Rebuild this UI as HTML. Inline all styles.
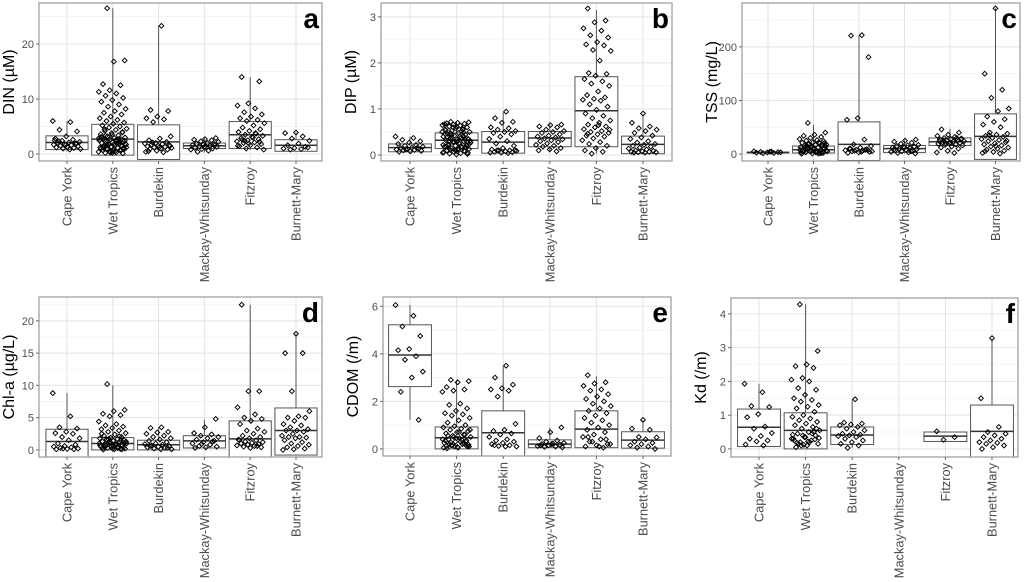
<!DOCTYPE html>
<html><head><meta charset="utf-8"><style>
html,body{margin:0;padding:0;background:#fff;}
svg{display:block;font-family:"Liberation Sans",Arial,sans-serif;}
</style></head><body>
<svg id="fig" width="1024" height="582" viewBox="0 0 1024 582" xmlns="http://www.w3.org/2000/svg"></svg>
<script>
const categories=["Cape York","Wet Tropics","Burdekin","Mackay-Whitsunday","Fitzroy","Burnett-Mary"];
// box stats: [whiskerLow, q1, median, q3, whiskerHigh]
const dinBox=[[0.5,0.8,2.1,3.3,6],[0,-0.2,2.7,5.4,26.5],[0.2,-1,2.2,5.3,23.3],[0.3,1,1.5,2,2.9],[0.8,1,3.5,5.9,14],[0.8,0.5,1.6,2.6,3.9]];
const dinPts=[[6,5.8,4.4,4.1,3.2,2.8,2.6,2.4,2.2,2.1,2,1.9,1.8,1.7,1.6,1.5,1.4,1.3,1.2,1.1,1,0.9,0.8,2.3,1.9,1.6,2.5],
[26.5,17,16.8,12.7,12.5,11.6,11.3,11,10.6,10.2,9.8,9.5,9,8.6,8.2,7.8,7.5,7.2,6.8,6.5,6.2,6,5.7,5.5,5.2,5,4.8,4.6,4.4,4.2,4,3.8,3.6,3.4,3.2,3,2.9,2.8,2.7,2.6,2.5,2.4,2.3,2.2,2.1,2,1.9,1.8,1.7,1.6,1.5,1.4,1.3,1.2,1.1,1,0.9,0.8,0.7,0.6,0.5,0.4,0.3,0.2,0.1,3.5,3.1,2.7,2.3,1.9,1.5,1.1,0.7,0.3,2.5,2,1.5,1,0.5,3,2.2,1.7,1.2,0.6,4.5,3.9,1.3,0.9,2.1,1.6,2.4,1.8,1.4,0.8,0.4,2.9,2.6,3.3,1.1,0.2],
[23.3,8,7.8,6.8,6.5,6.3,5.8,3.2,2.8,2.5,2.2,2,1.9,1.8,1.7,1.6,1.5,1.4,1.3,1.2,1.1,1,0.9,0.8,0.6,0.4,0.3,2.1,1.5,1.2,0.5],
[2.9,2.7,2.6,2.5,2.3,2.2,2,1.9,1.8,1.7,1.6,1.5,1.4,1.3,1.2,1.1,1,0.9,0.8,0.6,0.4,1.6,1.3],
[14,13.2,9.2,8.8,8.3,7.6,7.2,6.8,6.5,6.2,6,5.6,5.2,4.8,4.5,4.2,4,3.7,3.5,3.3,3.1,2.9,2.7,2.5,2.3,2.1,2,1.8,1.6,1.4,1.2,1,0.8,3,2.6,2.2,1.9,1.5,3.8,2.4],
[3.9,3.8,3.2,2.8,2.4,1.9,1.6,1.3,1.1,1,0.9,0.8,1.2]];
const dipBox=[[0.05,0.07,0.16,0.24,0.4],[0.01,0.14,0.32,0.48,0.72],[0.03,0.04,0.28,0.51,0.93],[0.07,0.18,0.37,0.51,0.67],[0.03,0.18,0.96,1.7,3.15],[0.03,0.03,0.23,0.41,0.88]];
const dipPts=[[0.4,0.37,0.33,0.3,0.27,0.24,0.22,0.2,0.18,0.16,0.15,0.14,0.13,0.12,0.11,0.1,0.09,0.08,0.07,0.15,0.12],
[0.72,0.71,0.7,0.69,0.68,0.66,0.65,0.64,0.62,0.6,0.58,0.56,0.55,0.53,0.5,0.48,0.46,0.44,0.42,0.4,0.38,0.36,0.35,0.33,0.32,0.3,0.28,0.27,0.25,0.23,0.22,0.2,0.18,0.17,0.15,0.13,0.12,0.1,0.08,0.07,0.05,0.04,0.03,0.02,0.01,0.45,0.41,0.37,0.31,0.26,0.21,0.16,0.11,0.06,0.52,0.47,0.34,0.29,0.19,0.09,0.6,0.5,0.4,0.3,0.2,0.1,0.67,0.57,0.43,0.24,0.14,0.39,0.33,0.28,0.22,0.18,0.12,0.05,0.61,0.54,0.49],
[0.94,0.8,0.72,0.7,0.6,0.58,0.55,0.52,0.5,0.48,0.45,0.4,0.35,0.3,0.25,0.2,0.15,0.12,0.1,0.1,0.09,0.08,0.07,0.06,0.05,0.05,0.04,0.1,0.1],
[0.66,0.65,0.62,0.6,0.55,0.52,0.5,0.48,0.45,0.42,0.4,0.38,0.36,0.34,0.32,0.3,0.28,0.25,0.22,0.2,0.18,0.15,0.12,0.1,0.08],
[3.18,2.92,2.88,2.75,2.7,2.6,2.55,2.45,2.4,2.38,2.28,2.26,2.05,1.78,1.76,1.72,1.65,1.6,1.55,1.5,1.38,1.3,1.25,1.22,1.2,1.18,1.1,1.05,0.98,0.9,0.85,0.8,0.75,0.7,0.66,0.62,0.6,0.56,0.52,0.5,0.48,0.45,0.42,0.4,0.36,0.32,0.28,0.24,0.2,0.15,0.1,0.07,0.03,0.55,0.65,0.46],
[0.9,0.7,0.62,0.58,0.55,0.52,0.48,0.42,0.38,0.35,0.3,0.27,0.24,0.22,0.2,0.18,0.16,0.14,0.12,0.1,0.09,0.08,0.07,0.07,0.06,0.06,0.05,0.05]];
const tssBox=[[1,2,3,3.5,5],[0,2,8,15,55],[2,-12,18,60,222],[1,3,10,16,26],[3,16,23,30,47],[2,-10,33,75,272]];
const tssPts=[[5,4.5,4,3.5,3,2.5,2,1.5,3.2,4.2],
[58,40,36,34,32,30,28,26,25,24,22,21,20,19,18,17,16,15,14,13,12,11,10,9,8,7,6,5,4,3,2,1,0.5,22,18,14,10,6,2,12,8,4,16,20,9,5,1.5,11,7,3,13,17,6,3,1,9,15],
[222,221,181,67,64,27,18,15,12,10,9,8,7,6,5,4,3,2,8,6,5,4,10,7],
[27,25,23,21,19,17,16,15,14,13,12,11,10,9,8,7,6,5,4,3,2,1,12,8,5],
[46,40,36,34,32,30,29,28,27,26,25,24,23,22,21,20,19,18,17,16,14,12,10,6,3,2,25,28,22,24,30,20],
[272,150,120,105,85,80,70,65,60,55,50,40,38,36,34,32,30,28,26,24,22,20,18,16,14,12,10,8,6,4,2,1,35,25,15,5]];
const chlBox=[[0,-1.2,1.3,3.2,8.8],[0,0,1,1.9,10],[0,0,0.8,1.5,3.5],[0.3,0.3,1.4,2.2,4.7],[0.3,-2,1.7,4.5,22.5],[0,-0.8,3,6.5,18]];
const chlPts=[[8.8,5.2,3.5,3.3,2.8,2.6,2.5,2,1.8,1.5,1,0.8,0.6,0.5,0.4,0.3,0.2,0.15,0.1,0.1,0.2],
[10.2,6.2,6,5.6,5.4,5.2,4.4,4,3.8,3.6,3.4,3.2,3,2.8,2.6,2.4,2.2,2,1.9,1.8,1.7,1.6,1.5,1.4,1.3,1.2,1.1,1,0.9,0.8,0.7,0.6,0.5,0.4,0.3,0.2,0.1,0.05,1.5,1.2,1,0.8,0.6,0.4,0.2,2.5,2.1,1.7,1.3,0.9,0.5,0.1,1.1,0.7,0.3,1.6,1.0,0.6,0.3,0.15],
[3.5,3.4,2.8,2.7,2.5,2.2,2,1.8,1.6,1.4,1.2,1,0.9,0.8,0.7,0.6,0.5,0.4,0.3,0.2,0.1,0.1,0.6,0.3],
[4.8,3.5,2.6,2.4,2.2,2,1.8,1.6,1.4,1.2,1,0.8,0.6,0.5,0.4,0.3,1.3,0.9],
[22.5,9.1,9.1,6.6,5.5,5,4.8,4.5,4,3.3,3,2.8,2.5,2.2,2,1.8,1.6,1.5,1.3,1.2,1.1,1,0.9,0.8,0.7,0.6,0.5,0.4,0.3,1.5,0.6],
[18,15,15,9.1,6,5.2,5,5,4.5,4,3.8,3.5,3.2,3,3,2.8,2.5,2.2,2,2,1.9,1.8,1.5,1.2,1,0.8,0.6,0.4,0.2,0.1,0]];
const cdomBox=[[1.22,2.62,3.95,5.22,6.05],[0,0,0.47,0.92,2.9],[0.1,-0.5,0.68,1.6,3.5],[0.05,0.05,0.2,0.38,0.9],[0.05,0.05,0.83,1.6,3.05],[0.03,0.03,0.37,0.72,1.2]];
const cdomPts=[[6.05,5.6,5.15,4.75,4.2,4.15,3.9,3.75,3.25,3,2.4,1.22],
[2.9,2.85,2.8,2.6,2.5,2.45,2.4,1.9,1.85,1.7,1.6,1.5,1.45,1.4,1.3,1.2,1.1,1,0.95,0.9,0.85,0.8,0.75,0.7,0.65,0.6,0.55,0.5,0.45,0.4,0.35,0.3,0.25,0.2,0.15,0.1,0.05,0.02,0.6,0.5,0.4,0.3,0.2,0.1,0.45,0.35,0.25,0.15,0.8,0.7,0.55,0.3,0.1,0.05,0.38,0.28,0.18,0.08,0.12,0.22],
[3.5,3,2.7,2.55,2.5,2.45,2.2,1.05,0.8,0.75,0.65,0.6,0.5,0.4,0.35,0.3,0.25,0.2,0.15,0.12,0.1,0.1,0.15],
[0.9,0.7,0.45,0.35,0.3,0.25,0.22,0.2,0.18,0.15,0.12,0.1,0.08,0.06,0.2,0.15],
[3.1,2.8,2.75,2.65,2.5,2.45,2.3,2.2,2.1,2,1.9,1.8,1.7,1.6,1.5,1.4,1.3,1.2,1.1,1,0.9,0.8,0.7,0.6,0.5,0.4,0.3,0.2,0.15,0.1,0.05,0.3,0.2,0.1,0.5,0.4],
[1.22,0.85,0.8,0.5,0.48,0.4,0.3,0.25,0.2,0.15,0.1,0.05,0]];
const kdBox=[[0.1,0.07,0.64,1.18,1.93],[0,0,0.55,1.07,4.28],[0.03,0.13,0.41,0.65,1.47],null,[0.25,0.22,0.38,0.5,0.5],[0,-0.3,0.52,1.3,3.25]];
const kdPts=[[1.93,1.68,1.27,1.24,1.03,0.94,0.66,0.6,0.47,0.38,0.3,0.25,0.22,0.13,0.1],
[4.28,2.9,2.5,2.45,2.4,2.1,2.05,2,1.8,1.75,1.6,1.5,1.45,1.4,1.3,1.25,1.2,1.1,1,0.95,0.9,0.85,0.8,0.75,0.7,0.65,0.6,0.55,0.5,0.45,0.4,0.35,0.3,0.25,0.2,0.15,0.1,0.05,0.5,0.4,0.3,0.2,0.15,0.6,0.35,0.25,0.45,0.1,0.32,0.22,0.18,0.28,0.12,0.42],
[1.47,0.78,0.75,0.72,0.7,0.65,0.6,0.55,0.5,0.45,0.42,0.4,0.38,0.35,0.3,0.25,0.2,0.15,0.1,0.03],
[],
[0.52,0.35,0.27],
[3.28,1.5,0.65,0.5,0.45,0.4,0.35,0.3,0.25,0.2,0.18,0.15,0.1,0.05,0]];
const dinTicks=[0,10,20], dinMinor=[5,15,25];
const dipTicks=[0,1,2,3], dipMinor=[0.5,1.5,2.5];
const tssTicks=[0,100,200], tssMinor=[50,150,250];
const chlTicks=[0,5,10,15,20], chlMinor=[2.5,7.5,12.5,17.5,22.5];
const cdomTicks=[0,2,4,6], cdomMinor=[1,3,5];
const kdTicks=[0,1,2,3,4], kdMinor=[0.5,1.5,2.5,3.5];

const NS="http://www.w3.org/2000/svg";
const svg=document.getElementById('fig');
function mk(tag,attrs,parent){const e=document.createElementNS(NS,tag);for(const k in attrs)e.setAttribute(k,attrs[k]);(parent||svg).appendChild(e);return e;}

const panels=[
 {id:'din',letter:'a',title:'DIN (µM)',x0:39,x1:322,y0:3,y1:161,vmin:-1.27,vmax:27.45,cx0:67,dx:45.8,box:dinBox,pts:dinPts,ticks:dinTicks,minor:dinMinor},
 {id:'dip',letter:'b',title:'DIP (µM)',x0:381,x1:672,y0:3,y1:161,vmin:-0.13,vmax:3.3,cx0:410,dx:46.6,box:dipBox,pts:dipPts,ticks:dipTicks,minor:dipMinor},
 {id:'tss',letter:'c',title:'TSS (mg/L)',x0:742,x1:1020,y0:3,y1:161,vmin:-13,vmax:282,cx0:768,dx:45.5,box:tssBox,pts:tssPts,ticks:tssTicks,minor:tssMinor},
 {id:'chl',letter:'d',title:'Chl-a (µg/L)',x0:39,x1:322,y0:297,y1:457,vmin:-1.1,vmax:23.7,cx0:67,dx:45.8,box:chlBox,pts:chlPts,ticks:chlTicks,minor:chlMinor},
 {id:'cdom',letter:'e',title:'CDOM (/m)',x0:383,x1:671,y0:297,y1:456,vmin:-0.3,vmax:6.39,cx0:410,dx:46.6,box:cdomBox,pts:cdomPts,ticks:cdomTicks,minor:cdomMinor},
 {id:'kd',letter:'f',title:'Kd (/m)',x0:731,x1:1018,y0:298,y1:457,vmin:-0.24,vmax:4.47,cx0:759,dx:46.6,box:kdBox,pts:kdPts,ticks:kdTicks,minor:kdMinor}
];

panels.forEach(p=>{
 const g=mk('g',{});
 
 
 const ys=v=>p.y1-(v-p.vmin)/(p.vmax-p.vmin)*(p.y1-p.y0);
 const xs=i=>p.cx0+i*p.dx;
 const cp=mk('clipPath',{id:'clip-'+p.id},g);
 mk('rect',{x:p.x0,y:p.y0,width:p.x1-p.x0,height:p.y1-p.y0},cp);
 const grid=mk('g',{},g);
 
 
 p.minor.forEach(v=>{const y=ys(v);if(y>p.y0&&y<p.y1)mk('line',{x1:p.x0,x2:p.x1,y1:y,y2:y,stroke:'#f2f2f2','stroke-width':0.8},grid);});
 p.ticks.forEach(v=>mk('line',{x1:p.x0,x2:p.x1,y1:ys(v),y2:ys(v),stroke:'#e3e3e3','stroke-width':1},grid));
 categories.forEach((c,i)=>mk('line',{x1:xs(i),x2:xs(i),y1:p.y0,y2:p.y1,stroke:'#e3e3e3','stroke-width':1},grid));
 const marks=mk('g',{'clip-path':'url(#clip-'+p.id+')'},g);
 const bw=p.dx*0.92;
 p.box.forEach((b,i)=>{
  if(!b)return;
  const bg=mk('g',{},marks);
  
  
  const x=xs(i);
  mk('line',{x1:x,x2:x,y1:ys(b[4]),y2:ys(b[3]),stroke:'#555','stroke-width':1},bg);
  mk('line',{x1:x,x2:x,y1:ys(b[1]),y2:ys(b[0]),stroke:'#555','stroke-width':1},bg);
  mk('rect',{x:x-bw/2,y:ys(b[3]),width:bw,height:ys(b[1])-ys(b[3]),fill:'#fff',stroke:'#555','stroke-width':1},bg);
  mk('line',{x1:x-bw/2,x2:x+bw/2,y1:ys(b[2]),y2:ys(b[2]),stroke:'#333','stroke-width':1.5},bg);
 });
 p.pts.forEach((arr,i)=>{
  const pg=mk('g',{},marks);
  
  
  arr.forEach((v,j)=>{
   const off=(((j*0.618034+i*0.3)%1)-0.5)*p.dx*0.62;
   const x=xs(i)+off,y=ys(v),r=2.4;
   mk('path',{d:`M${x} ${y-r}L${x+r} ${y}L${x} ${y+r}L${x-r} ${y}Z`,fill:'none',stroke:'#000','stroke-width':0.95},pg);
  });
 });
 const fr=mk('rect',{x:p.x0,y:p.y0,width:p.x1-p.x0,height:p.y1-p.y0,fill:'none',stroke:'#9a9a9a','stroke-width':1.2},g);
 
 
 p.ticks.forEach(v=>{
  const y=ys(v);
  mk('line',{x1:p.x0-3,x2:p.x0,y1:y,y2:y,stroke:'#666','stroke-width':1},g);
  const t=mk('text',{x:p.x0-5,y:y+4,'text-anchor':'end','font-size':11,fill:'#4d4d4d'},g);
  t.textContent=v;
  
  
 });
 categories.forEach((c,i)=>{
  const x=xs(i);
  mk('line',{x1:x,x2:x,y1:p.y1,y2:p.y1+3,stroke:'#666','stroke-width':1},g);
  const t=mk('text',{transform:`translate(${x+4.5},${p.y1+6}) rotate(-90)`,'text-anchor':'end','font-size':12.8,fill:'#4d4d4d'},g);
  t.textContent=c;
  
  
 });
 const yt=mk('text',{transform:`translate(${p.x0-25},${(p.y0+p.y1)/2}) rotate(-90)`,'text-anchor':'middle','font-size':16,fill:'#000'},g);
 yt.textContent=p.title;
 
 
 const lt=mk('text',{x:p.x1-3,y:p.y0+25,'text-anchor':'end','font-size':28,'font-weight':'bold',fill:'#000'},g);
 lt.textContent=p.letter;
 
 
});
</script>
</body></html>
